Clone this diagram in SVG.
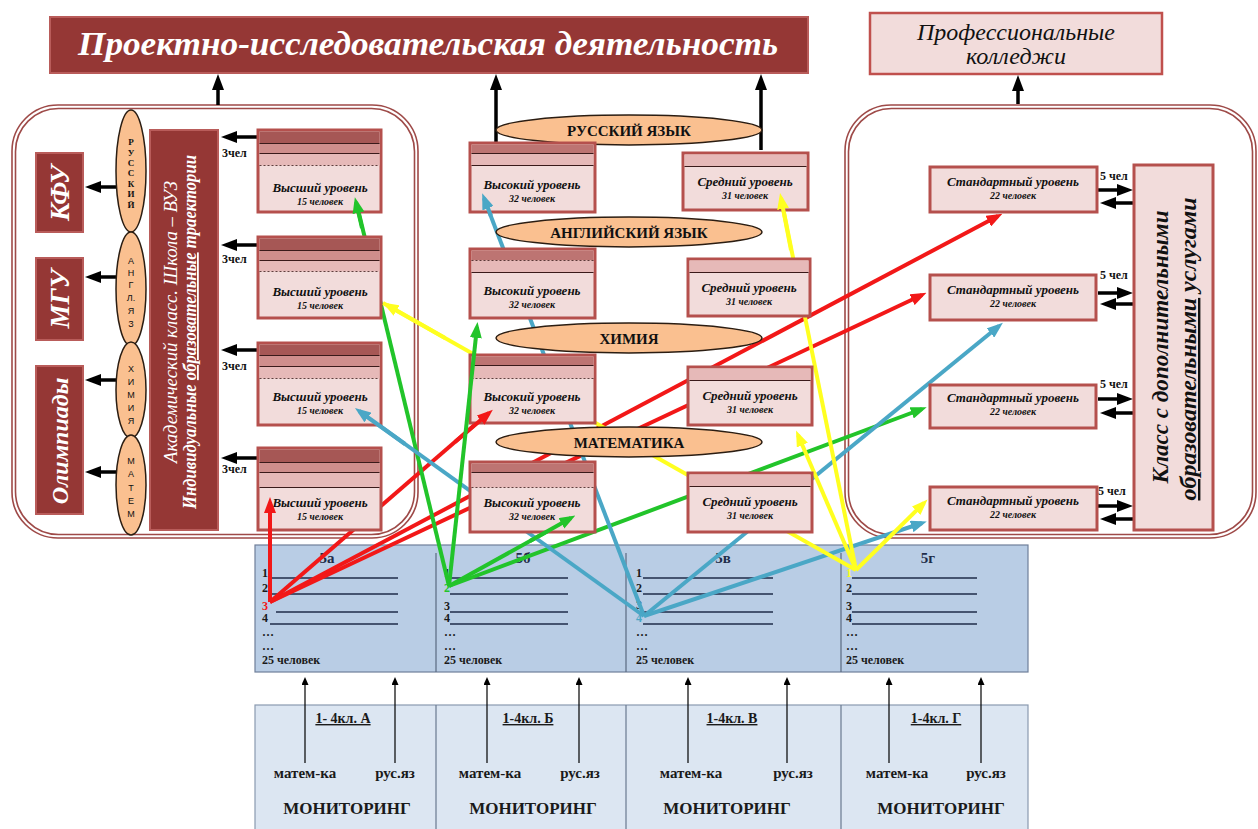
<svg xmlns="http://www.w3.org/2000/svg" width="1258" height="829" viewBox="0 0 1258 829">
<defs>
<style>
text{font-family:"Liberation Serif","DejaVu Serif","Noto Serif",serif}
.dk{fill:#953735;stroke:#b95c5a;stroke-width:2}
.pk{fill:#f2dcdb;stroke:#b5504d;stroke-width:3}
.b1{fill:#a65755}
.b2{fill:#cf8e8c}
.b3{fill:#e6b9b8}
.h1{fill:#bd7472}
.sep{stroke:#3a1a1a;stroke-width:1;fill:none}
.dsh{stroke:#3a1a1a;stroke-width:0.8;stroke-dasharray:2 2;fill:none}
.pan{fill:none;stroke:#9e4a48;stroke-width:1.6}
.ov{fill:#fac090;stroke:#2b1d12;stroke-width:1.5}
.lvl{font-style:italic;font-weight:bold;font-size:13px;text-anchor:middle;fill:#111}
.cnt{font-style:italic;font-weight:bold;font-size:10px;text-anchor:middle;fill:#111}
.subj{font-weight:bold;font-size:15px;text-anchor:middle;fill:#111}
.let{font-weight:bold;font-size:9px;text-anchor:middle;fill:#111}
text.lets{font-family:"Liberation Sans","DejaVu Sans",sans-serif;font-size:9px;text-anchor:middle;fill:#111}
.sm{font-weight:bold;font-size:12px;fill:#111}
.vt{font-style:italic;font-weight:bold;fill:#fff;text-anchor:middle}
.blk{stroke:#000;stroke-width:3.5;fill:none;marker-end:url(#ak)}
.ck{stroke-width:4;fill:none}
.r{stroke:#f21818}.g{stroke:#22c42a}.bl{stroke:#4aa7c6}.y{stroke:#ffff20}
.mr{marker-end:url(#ar)}.mg{marker-end:url(#ag)}.mb{marker-end:url(#ab)}.my{marker-end:url(#ay)}
.tbl{font-weight:bold;font-size:12px;fill:#1a1a1a}
.hd{font-weight:bold;font-size:15px;fill:#1f2d4a;text-anchor:middle}
.rl{stroke:#1f2d4a;stroke-width:1.5}
.thin{stroke:#000;stroke-width:1.2;fill:none;marker-end:url(#at)}
.bt{font-weight:bold;text-anchor:middle;fill:#1a1a1a}
</style>
<marker id="ak" markerUnits="userSpaceOnUse" markerWidth="16" markerHeight="12" refX="11" refY="6" orient="auto"><path d="M0,0 L16,6 L0,12 z" fill="#000"/></marker>
<marker id="ar" markerUnits="userSpaceOnUse" markerWidth="16" markerHeight="12" refX="11" refY="6" orient="auto"><path d="M0,0 L16,6 L0,12 z" fill="#f21818"/></marker>
<marker id="ag" markerUnits="userSpaceOnUse" markerWidth="16" markerHeight="12" refX="11" refY="6" orient="auto"><path d="M0,0 L16,6 L0,12 z" fill="#22c42a"/></marker>
<marker id="ab" markerUnits="userSpaceOnUse" markerWidth="16" markerHeight="12" refX="11" refY="6" orient="auto"><path d="M0,0 L16,6 L0,12 z" fill="#4aa7c6"/></marker>
<marker id="ay" markerUnits="userSpaceOnUse" markerWidth="16" markerHeight="12" refX="11" refY="6" orient="auto"><path d="M0,0 L16,6 L0,12 z" fill="#ffff20"/></marker>
<marker id="at" markerUnits="userSpaceOnUse" markerWidth="8" markerHeight="7" refX="6" refY="3.5" orient="auto"><path d="M0,0 L8,3.5 L0,7 z" fill="#000"/></marker>
</defs>
<rect width="1258" height="829" fill="#fff"/>

<!-- outputs -->
<g id="title">
<rect x="50" y="17" width="758" height="56" class="dk"/>
<text x="428" y="55" class="vt" font-size="33" textLength="700" lengthAdjust="spacingAndGlyphs">Проектно-исследовательская деятельность</text>
</g>
<g id="colleges">
<rect x="870" y="13" width="292" height="61" fill="#f2dcdb" stroke="#c0504d" stroke-width="2.5"/>
<text x="1016" y="40" font-style="italic" font-size="23" text-anchor="middle" fill="#111" textLength="198" lengthAdjust="spacingAndGlyphs">Профессиональные</text>
<text x="1016" y="64" font-style="italic" font-size="23" text-anchor="middle" fill="#111" textLength="100" lengthAdjust="spacingAndGlyphs">колледжи</text>
</g>

<!-- panels -->
<g id="left-panel">
<rect x="12" y="105" width="406" height="433" rx="46" class="pan"/>
<rect x="15.5" y="108.5" width="399" height="426" rx="43" class="pan"/>
</g>
<g id="right-panel">
<rect x="845" y="105" width="411" height="433" rx="46" class="pan"/>
<rect x="848.5" y="108.5" width="404" height="426" rx="43" class="pan"/>
</g>

<!-- class table -->
<g id="classes">
<rect x="255" y="545" width="773" height="127" fill="#b9cde5" stroke="#6f7f99" stroke-width="1.2"/>
<path d="M436 553V672M626 553V672M841 553V672" stroke="#5a6a80" stroke-width="1.2"/>
<text x="327" y="563" class="hd">5а</text>
<text x="523" y="563" class="hd">5б</text>
<text x="723" y="563" class="hd">5в</text>
<text x="928" y="563" class="hd">5г</text>
<g class="tbl">
<text x="262" y="577">1</text><text x="262" y="592">2</text><text x="262" y="610" fill="#f21818">3</text><text x="262" y="622">4</text><text x="262" y="636">…</text><text x="262" y="650">…</text><text x="262" y="664">25 человек</text>
<text x="444" y="577">1</text><text x="444" y="592" fill="#22c42a">2</text><text x="444" y="610">3</text><text x="444" y="622">4</text><text x="444" y="636">…</text><text x="444" y="650">…</text><text x="444" y="664">25 человек</text>
<text x="636" y="577">1</text><text x="636" y="592">2</text><text x="636" y="609">3</text><text x="636" y="622" fill="#4aa7c6">4</text><text x="636" y="636">…</text><text x="636" y="650">…</text><text x="636" y="664">25 человек</text>
<text x="846" y="577" fill="#ffff20">1</text><text x="846" y="592">2</text><text x="846" y="610">3</text><text x="846" y="622">4</text><text x="846" y="636">…</text><text x="846" y="650">…</text><text x="846" y="664">25 человек</text>
</g>
<path class="rl" d="M270 578H398M270 594H398M276 612H398M270 624H398M450 578H568M450 594H568M450 612H568M450 624H568M643 578H773M643 594H773M643 612H773M643 624H773M852 578H977M852 594H977M852 612H977M852 624H977"/>
</g>

<!-- monitoring table -->
<g id="monitoring">
<rect x="255" y="705" width="773" height="130" fill="#dce6f2" stroke="#8a9ab0" stroke-width="1.2"/>
<path d="M436 705V829M626 705V829M841 705V829" stroke="#6a7a90" stroke-width="1.2"/>
<g class="bt" font-size="14">
<text x="343" y="723" text-decoration="underline">1- 4кл. А</text>
<text x="528" y="723" text-decoration="underline">1-4кл. Б</text>
<text x="732" y="723" text-decoration="underline">1-4кл. В</text>
<text x="936" y="723" text-decoration="underline">1-4кл. Г</text>
</g>
<g class="bt" font-size="15">
<text x="305" y="778">матем-ка</text><text x="395" y="778">рус.яз</text>
<text x="490" y="778">матем-ка</text><text x="580" y="778">рус.яз</text>
<text x="691" y="778">матем-ка</text><text x="793" y="778">рус.яз</text>
<text x="897" y="778">матем-ка</text><text x="986" y="778">рус.яз</text>
</g>
<g class="bt" font-size="17">
<text x="347" y="814">МОНИТОРИНГ</text>
<text x="533" y="814">МОНИТОРИНГ</text>
<text x="727" y="814">МОНИТОРИНГ</text>
<text x="941" y="814">МОНИТОРИНГ</text>
</g>
</g>

<!-- connectors (under nodes) -->
<g id="connectors">
<g id="black-arrows">
<path class="blk" d="M218 105V79"/>
<path class="blk" d="M496 142V79"/>
<path class="blk" d="M761 150V79"/>
<path class="blk" d="M1018 104V80"/>
<path class="blk" d="M117 187H90"/>
<path class="blk" d="M117 277H90"/>
<path class="blk" d="M117 380H90"/>
<path class="blk" d="M117 472H90"/>
<path class="blk" d="M257 137H226"/>
<path class="blk" d="M257 245H226"/>
<path class="blk" d="M257 350H226"/>
<path class="blk" d="M257 458H226"/>
<path class="blk" d="M1098 190H1128"/><path class="blk" d="M1133 203H1105"/>
<path class="blk" d="M1098 293H1128"/><path class="blk" d="M1133 304H1105"/>
<path class="blk" d="M1098 399H1128"/><path class="blk" d="M1133 413H1105"/>
<path class="blk" d="M1098 506H1128"/><path class="blk" d="M1133 519H1105"/>
<path class="thin" d="M305 763V679"/><path class="thin" d="M395 763V679"/>
<path class="thin" d="M487 763V679"/><path class="thin" d="M579 763V679"/>
<path class="thin" d="M688 763V679"/><path class="thin" d="M787 763V679"/>
<path class="thin" d="M889 763V679"/><path class="thin" d="M981 763V679"/>
</g>
<path class="ck r" d="M270 602L493 409"/>
<path class="ck r mr" d="M270 602L998 216"/>
<path class="ck r mr" d="M270 602L922 295"/>
<path class="ck g" d="M449 586L355 197"/>
<path class="ck g" d="M449 586L575 516"/>
<path class="ck g mg" d="M449 586L922 409"/>
<path class="ck bl" d="M644 616L482 193"/>
<path class="ck bl" d="M644 616L355 408"/>
<path class="ck bl mb" d="M644 616L922 523"/>
<path class="ck bl mb" d="M644 616L999 326"/>
<path class="ck y" d="M856 570L780 193"/>
<path class="ck y" d="M856 570L383 303"/>
<path class="ck y my" d="M856 570L798 435"/>
<path class="ck y my" d="M856 570L924 503"/>
</g>

<!-- left panel nodes -->
<g id="kfu"><rect x="36" y="153" width="47" height="79" class="dk"/><text class="vt" font-size="27" transform="translate(69,193) rotate(-90)">КФУ</text></g>
<g id="mgu"><rect x="36" y="258" width="47" height="82" class="dk"/><text class="vt" font-size="27" transform="translate(69,299) rotate(-90)">МГУ</text></g>
<g id="olymp"><rect x="36" y="366" width="47" height="148" class="dk"/><text class="vt" font-size="24" transform="translate(68,441) rotate(-90)">Олимпиады</text></g>

<g id="ov-rus"><ellipse cx="131" cy="171" rx="15" ry="61" class="ov"/>
<g class="let"><text x="131" y="145">Р</text><text x="131" y="156">У</text><text x="131" y="166">С</text><text x="131" y="176">С</text><text x="131" y="187">К</text><text x="131" y="197">И</text><text x="131" y="208">Й</text></g></g>
<g id="ov-eng"><ellipse cx="131" cy="289" rx="15" ry="57" class="ov"/>
<g><text class="lets" x="131" y="264">А</text><text class="lets" x="131" y="276">Н</text><text class="lets" x="131" y="288">Г</text><text class="lets" x="131" y="301">Л.</text><text class="lets" x="131" y="314">Я</text><text class="lets" x="131" y="327">З</text></g></g>
<g id="ov-chem"><ellipse cx="131" cy="390" rx="15" ry="48" class="ov"/>
<g><text class="lets" x="131" y="372">Х</text><text class="lets" x="131" y="385">И</text><text class="lets" x="131" y="398">М</text><text class="lets" x="131" y="411">И</text><text class="lets" x="131" y="424">Я</text></g></g>
<g id="ov-math"><ellipse cx="131" cy="485" rx="15" ry="50" class="ov"/>
<g><text class="lets" x="131" y="464">М</text><text class="lets" x="131" y="477">А</text><text class="lets" x="131" y="491">Т</text><text class="lets" x="131" y="504">Е</text><text class="lets" x="131" y="517">М</text></g></g>

<g id="academic">
<rect x="150" y="130" width="68" height="400" class="dk"/>
<text font-style="italic" font-size="19" fill="#fff" text-anchor="middle" transform="translate(177,322) rotate(-90)" textLength="282" lengthAdjust="spacingAndGlyphs">Академический класс. Школа – ВУЗ</text>
<text font-style="italic" font-weight="bold" font-size="18" fill="#fff" text-anchor="middle" transform="translate(196,332) rotate(-90)" textLength="354" lengthAdjust="spacingAndGlyphs">Индивидуальные <tspan text-decoration="underline">образовательные</tspan> траектории</text>
</g>

<g class="sm">
<text x="222" y="157">3чел</text><text x="222" y="263">3чел</text><text x="222" y="370">3чел</text><text x="222" y="473">3чел</text>
<text x="1100" y="180">5 чел</text><text x="1100" y="279">5 чел</text><text x="1100" y="388">5 чел</text><text x="1098" y="495">5 чел</text>
</g>

<!-- Высший уровень -->
<g id="hi1"><rect x="258" y="130" width="123" height="82" class="pk"/>
<rect x="259.5" y="131.5" width="120" height="12" class="b1"/><rect x="259.5" y="143.5" width="120" height="10" class="b2"/><rect x="259.5" y="153.5" width="120" height="12" class="b3"/>
<path class="sep" d="M259.5 143.5H379.5M259.5 153.5H379.5"/><path class="dsh" d="M259.5 165.5H379.5"/>
<text x="320" y="192" class="lvl">Высший уровень</text><text x="320" y="205" class="cnt">15 человек</text></g>
<g id="hi2"><rect x="258" y="237" width="123" height="81" class="pk"/>
<rect x="259.5" y="238.5" width="120" height="12" class="b1"/><rect x="259.5" y="250.5" width="120" height="10" class="b2"/><rect x="259.5" y="260.5" width="120" height="11" class="b3"/>
<path class="sep" d="M259.5 250.5H379.5M259.5 260.5H379.5"/><path class="dsh" d="M259.5 271.5H379.5"/>
<text x="320" y="296" class="lvl">Высший уровень</text><text x="320" y="309" class="cnt">15 человек</text></g>
<g id="hi3"><rect x="258" y="343" width="123" height="82" class="pk"/>
<rect x="259.5" y="344.5" width="120" height="11" class="b1"/><rect x="259.5" y="355.5" width="120" height="11" class="b2"/><rect x="259.5" y="366.5" width="120" height="12" class="b3"/>
<path class="sep" d="M259.5 355.5H379.5M259.5 366.5H379.5"/><path class="dsh" d="M259.5 378.5H379.5"/>
<text x="320" y="401" class="lvl">Высший уровень</text><text x="320" y="414" class="cnt">15 человек</text></g>
<g id="hi4"><rect x="258" y="448" width="123" height="82" class="pk"/>
<rect x="259.5" y="449.5" width="120" height="13" class="b1"/><rect x="259.5" y="462.5" width="120" height="10" class="b2"/><rect x="259.5" y="472.5" width="120" height="15" class="b3"/>
<path class="sep" d="M259.5 462.5H379.5M259.5 472.5H379.5M259.5 487.5H379.5"/>
<text x="320" y="507" class="lvl">Высший уровень</text><text x="320" y="520" class="cnt">15 человек</text></g>

<!-- middle column -->
<g id="subj-rus"><ellipse cx="629" cy="130" rx="133" ry="15" class="ov"/><text x="629" y="136" class="subj">РУССКИЙ ЯЗЫК</text></g>
<g id="subj-eng"><ellipse cx="629" cy="232" rx="133" ry="15" class="ov"/><text x="629" y="238" class="subj">АНГЛИЙСКИЙ ЯЗЫК</text></g>
<g id="subj-chem"><ellipse cx="629" cy="338" rx="133" ry="15" class="ov"/><text x="629" y="344" class="subj">ХИМИЯ</text></g>
<g id="subj-math"><ellipse cx="629" cy="442" rx="133" ry="15" class="ov"/><text x="629" y="448" class="subj">МАТЕМАТИКА</text></g>

<g id="mid-hi1"><rect x="470" y="143" width="125" height="69" class="pk"/>
<rect x="471.5" y="144.5" width="122" height="9" class="h1"/><rect x="471.5" y="153.5" width="122" height="12" class="b3"/>
<path class="sep" d="M471.5 153.5H593.5M471.5 165.5H593.5"/>
<text x="532" y="189" class="lvl">Высокий уровень</text><text x="532" y="202" class="cnt">32 человек</text></g>
<g id="mid-hi2"><rect x="470" y="249" width="125" height="69" class="pk"/>
<rect x="471.5" y="250.5" width="122" height="10" class="h1"/><rect x="471.5" y="260.5" width="122" height="12" class="b3"/>
<path class="dsh" d="M471.5 260.5H593.5"/><path class="sep" d="M471.5 272.5H593.5"/>
<text x="532" y="295" class="lvl">Высокий уровень</text><text x="532" y="308" class="cnt">32 человек</text></g>
<g id="mid-hi3"><rect x="470" y="355" width="125" height="68" class="pk"/>
<rect x="471.5" y="356.5" width="122" height="9" class="h1"/><rect x="471.5" y="365.5" width="122" height="13" class="b3"/>
<path class="sep" d="M471.5 365.5H593.5"/><path class="dsh" d="M471.5 378.5H593.5"/>
<text x="532" y="401" class="lvl">Высокий уровень</text><text x="532" y="414" class="cnt">32 человек</text></g>
<g id="mid-hi4"><rect x="470" y="462" width="125" height="70" class="pk"/>
<rect x="471.5" y="463.5" width="122" height="9" class="h1"/><rect x="471.5" y="472.5" width="122" height="15" class="b3"/>
<path class="sep" d="M471.5 472.5H593.5"/><path class="dsh" d="M471.5 487.5H593.5"/>
<text x="532" y="507" class="lvl">Высокий уровень</text><text x="532" y="520" class="cnt">32 человек</text></g>

<g id="mid-md1"><rect x="683" y="153" width="125" height="57" class="pk"/>
<rect x="684.5" y="154.5" width="122" height="12" class="b3"/><path class="sep" d="M684.5 166.5H806.5"/>
<text x="745" y="186" class="lvl">Средний уровень</text><text x="745" y="199" class="cnt">31 человек</text></g>
<g id="mid-md2"><rect x="688" y="259" width="122" height="57" class="pk"/>
<rect x="689.5" y="260.5" width="119" height="12" class="b3"/><path class="sep" d="M689.5 272.5H808.5"/>
<text x="749" y="292" class="lvl">Средний уровень</text><text x="749" y="305" class="cnt">31 человек</text></g>
<g id="mid-md3"><rect x="688" y="367" width="124" height="58" class="pk"/>
<rect x="689.5" y="368.5" width="121" height="12" class="b3"/><path class="sep" d="M689.5 380.5H810.5"/>
<text x="750" y="400" class="lvl">Средний уровень</text><text x="750" y="413" class="cnt">31 человек</text></g>
<g id="mid-md4"><rect x="688" y="473" width="124" height="59" class="pk"/>
<rect x="689.5" y="474.5" width="121" height="12" class="b3"/><path class="sep" d="M689.5 486.5H810.5"/>
<text x="750" y="506" class="lvl">Средний уровень</text><text x="750" y="519" class="cnt">31 человек</text></g>

<!-- right panel nodes -->
<g id="std1"><rect x="930" y="167" width="167" height="45" class="pk"/><text x="1013" y="186" class="lvl">Стандартный уровень</text><text x="1013" y="199" class="cnt">22 человек</text></g>
<g id="std2"><rect x="930" y="275" width="166" height="45" class="pk"/><text x="1013" y="294" class="lvl">Стандартный уровень</text><text x="1013" y="307" class="cnt">22 человек</text></g>
<g id="std3"><rect x="930" y="385" width="166" height="43" class="pk"/><text x="1013" y="402" class="lvl">Стандартный уровень</text><text x="1013" y="415" class="cnt">22 человек</text></g>
<g id="std4"><rect x="930" y="487" width="167" height="43" class="pk"/><text x="1013" y="505" class="lvl">Стандартный уровень</text><text x="1013" y="518" class="cnt">22 человек</text></g>

<g id="extra-class">
<rect x="1134" y="165" width="79" height="365" class="pk"/>
<text font-style="italic" font-weight="bold" font-size="24" fill="#111" text-anchor="middle" transform="translate(1168,347) rotate(-90)" textLength="273" lengthAdjust="spacingAndGlyphs">Класс с дополнительными</text>
<text font-style="italic" font-weight="bold" font-size="24" fill="#111" text-anchor="middle" transform="translate(1196,349) rotate(-90)" textLength="303" lengthAdjust="spacingAndGlyphs"><tspan text-decoration="underline">образовательными</tspan> услугами</text>
</g>

<!-- connector tips (over nodes) -->
<g id="connector-tips">
<path class="ck r mr" d="M270 602L270 502"/>
<path class="ck r mr" d="M455 442L489 413"/>
<path class="ck g mg" d="M362 228L356 202"/>
<path class="ck g mg" d="M449 586L477 327"/>
<path class="ck g mg" d="M530 541L571 518"/>
<path class="ck bl mb" d="M491 216L484 198"/>
<path class="ck bl mb" d="M405 444L359 411"/>
<path class="ck y my" d="M791 250L781 198"/>
<path class="ck y my" d="M445 338L387 305"/>
</g>
</svg>
